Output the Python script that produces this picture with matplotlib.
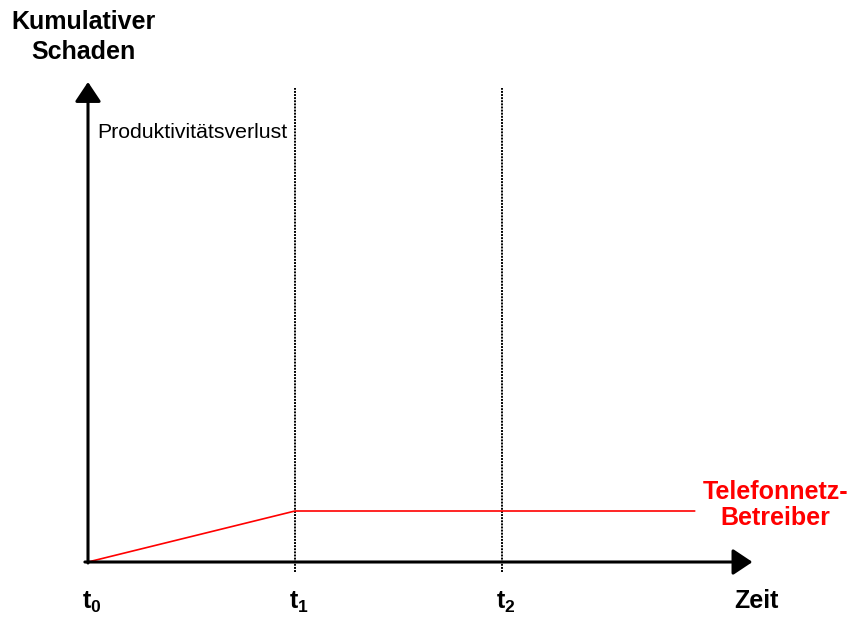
import matplotlib
matplotlib.use("Agg")
import matplotlib.pyplot as plt

plt.rcParams.update({
    "font.family": "Liberation Sans",
    "mathtext.fontset": "custom",
    "mathtext.bf": "Liberation Sans:bold",
    "mathtext.rm": "Liberation Sans",
})

# time marks on the x axis (t0 at the origin)
time_marks = [0, 1, 2]
time_labels = [r"$\mathbf{t_0}$", r"$\mathbf{t_1}$", r"$\mathbf{t_2}$"]
dotted_marks = [1, 2]

# cumulative damage of the network operator
damage_t = [0, 1, 2.93]
damage_val = [0, 0.51, 0.51]

x_axis_end = 3.21
y_axis_end = 4.80
dotted_top = 4.74
dotted_bottom = -0.10

fig = plt.figure(figsize=(8.53, 6.17), dpi=100)
ax = fig.add_axes([0, 0, 1, 1])
ax.set_xlim(-88 / 207, (853 - 88) / 207)
ax.set_ylim(-0.55, 5.62)
ax.axis("off")

# dotted time markers
for t in dotted_marks:
    ax.plot([t, t], [dotted_bottom, dotted_top], color="black",
            lw=1.4, linestyle=(0, (1, 0.6)))

# red damage curve
ax.plot(damage_t, damage_val, color="#FF0000", lw=1.2)

# axes with arrow heads
arrow = dict(arrowstyle="-|>,head_length=1.2,head_width=0.8",
             lw=2.2, color="black", shrinkA=0, shrinkB=0)
ax.annotate("", xy=(x_axis_end, 0), xytext=(-0.015, 0), arrowprops=arrow)
ax.annotate("", xy=(0, y_axis_end), xytext=(0, -0.01), arrowprops=arrow)

# time labels
for t, lab in zip(time_marks, time_labels):
    ax.annotate(lab, xy=(t, 0), xytext=(-4, -20), textcoords="offset points",
                ha="left", va="top", fontsize=18, fontweight="bold")

ax.text(3.23, -0.39, "Zeit", fontsize=18, fontweight="bold",
        ha="center", va="center")
ax.text(-0.02, 5.25, "Kumulativer\nSchaden", fontsize=18, fontweight="bold",
        ha="center", va="center", linespacing=1.3)
ax.text(0.045, 4.29, "Produktivitätsverlust", fontsize=15.3,
        ha="left", va="center")
ax.text(3.32, 0.57, "Telefonnetz-\nBetreiber", fontsize=18, fontweight="bold",
        color="#FF0000", ha="center", va="center", linespacing=1.15)

fig.savefig("out.png", dpi=100)
